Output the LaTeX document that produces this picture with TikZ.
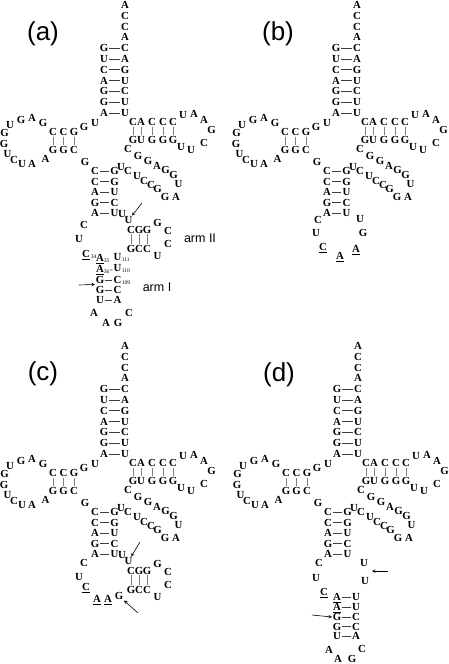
\documentclass[tikz,border=0pt]{standalone}
\usepackage{fontspec}
\setmainfont{Liberation Serif}
\setsansfont{Liberation Sans}
\begin{document}
\begin{tikzpicture}[
    x=1pt,
    y=-1pt,
    >=stealth,
    nt/.style={font=\bfseries\fontsize{10.8}{10.8}\selectfont,inner sep=0.6pt,
      text height=7.3pt,text depth=0pt},
    subs/.style={font=\fontsize{5.5}{5.5}\selectfont,inner sep=0pt,
      anchor=south west},
    pairbond/.style={draw=black!75,line width=0.6pt,shorten <=0.4pt,shorten >=0.4pt},
    rung/.style={draw=black!50,line width=0.7pt,shorten <=0.4pt,shorten >=0.4pt},
    pointer/.style={->,line width=0.6pt},
    panellabel/.style={font=\sffamily\fontsize{26}{26}\selectfont},
    armlabel/.style={font=\sffamily\fontsize{12.5}{12.5}\selectfont}
  ]
    \useasboundingbox (0,0) rectangle (448,664);

    % acceptor, D arm, T arm and anticodon stem, same in every panel
    \foreach \p/\dx/\dy in {a/0/0,b/232/0,c/0/341,d/233/341} {
      \begin{scope}[shift={(\dx,\dy)},name prefix=\p-]
        \foreach \n/\x/\y/\t in {
            t1/125/4.8/A, t2/125/15.6/C, t3/125/26.4/C, t4/125/37.2/A,
            l1/104/48/G, l2/104/58.8/U, l3/104/69.6/C, l4/104/80.4/A,
            l5/104/91.2/G, l6/104/102/G, l7/104/112.8/A,
            r1/125/48/C, r2/125/58.8/A, r3/125/69.6/G, r4/125/80.4/U,
            r5/125/91.2/C, r6/125/102/U, r7/125/112.8/U,
            j1/95/123/U, j2/84/126.5/G,
            d1/74/132/G, d2/63.5/132/C, d3/53/132/C,
            d4/53/150/G, d5/63.5/150/G, d6/74/150/C,
            e1/43/123/G, e2/32/117.5/A, e3/21/119.5/G, e4/10/124.5/U,
            e5/4.5/133/G, e6/4/143.5/G, e7/7.5/153.5/U, e8/14/159.5/C,
            e9/22/163.5/U, e10/32/163.5/A, e11/45.5/158.5/A,
            j3/85/161.5/G,
            s1/95/171/C, s2/95/181.5/C, s3/95/192/A, s4/95/202.5/G, s5/95/213/A,
            p1/114.5/171/G, p2/114.5/181.5/G, p3/114.5/192/U,
            p4/114.5/202.5/C, p5/114.5/213/U,
            v1/121/167/U, v2/128/171/C, v3/137/176/U, v4/144/181/C,
            v5/151/184.5/C, v6/157.5/188.5/G, v7/165/197/G, v8/176/197/A,
            v9/178.5/184/U, v10/173.5/174.5/G, v11/165.5/169.5/G, v12/157/165.5/A,
            v13/148/160.5/G, v14/138/155.5/G, v15/128/149/C,
            b1/133/140/G, b2/141/140/U, b3/152/140/G, b4/163/140/G, b5/173/140/G,
            c1/133/122/C, c2/141/122/A, c3/152/122/C, c4/163/122/C, c5/173/122/C,
            h1/181/147/U, h2/191/150/U, h3/204/143/C, h4/211.5/130/G,
            h5/204/120/A, h6/194/114/A, h7/183/115/U}
          \node[nt] (\n) at (\x,\y) {\t};
        \foreach \l/\r in {l1/r1,l2/r2,l3/r3,l4/r4,l5/r5,l6/r6,l7/r7,
            s1/p1,s2/p2,s3/p3,s4/p4,s5/p5}
          \draw[pairbond] (\l) -- (\r);
        \foreach \u/\w in {d3/d4,d2/d5,d1/d6,c1/b1,c2/b2,c3/b3,c4/b4,c5/b5}
          \draw[rung] (\u) -- (\w);
      \end{scope}
    }

    % arm II in panels (a) and (c)
    \foreach \p/\dy in {a/0,c/341} {
      \begin{scope}[shift={(0,\dy)},name prefix=\p-]
        \foreach \n/\x/\y/\t in {
            w1/122/214/U, w2/128.5/220/U,
            k1/131/229.5/C, k2/139/229.5/G, k3/147/229.5/G,
            k4/157.5/222.5/G, k5/168/231/C, k6/168/244/C, k7/157.5/256/U,
            f1/131/249/G, f2/139/249/C, f3/147/249/C}
          \node[nt] (\n) at (\x,\y) {\t};
        \foreach \u/\w in {k1/f1,k2/f2,k3/f3}
          \draw[rung] (\u) -- (\w);
      \end{scope}
    }

    % panel (a)
    \node[panellabel] (a-title) at (43,34) {(a)};
    \begin{scope}[name prefix=a-]
      \foreach \n/\x/\y/\t in {
          x1/84/225/C, x2/79/239/U, c34/86/254/\underline{C},
          a35/100/258/\underline{A}, a36/100/269/\underline{A},
          g1/100/280/G, g2/100/290/G, u1/100/300/U,
          o1/94/313/A, o2/106/323/A, o3/118/323/G, o4/129/313/C,
          u111/117.5/257/U, u110/117.5/268/U, c109/117.5/280/C,
          q2/117.5/290/C, q3/117.5/300/A}
        \node[nt] (\n) at (\x,\y) {\t};
      \node[subs] (s34) at (c34.south east) {34};
      \node[subs] (s35) at ([xshift=-1pt]a35.south east) {35};
      \node[subs] (s36) at ([xshift=-1pt]a36.south east) {36};
      \node[subs] (s111) at ([xshift=-0.5pt]u111.south east) {111};
      \node[subs] (s110) at ([xshift=-0.5pt]u110.south east) {110};
      \node[subs] (s109) at ([xshift=-0.5pt]c109.south east) {109};
      \draw[pairbond] (s36) -- (u110);
      \foreach \l/\r in {g1/c109,g2/q2,u1/q3}
        \draw[pairbond] (\l) -- (\r);
      \coordinate (arII) at (142,203);
      \draw[pointer] (arII) -- (w2);
      \coordinate (arI) at (79,285);
      \draw[pointer] (arI) -- (g1.south west);
      \node[armlabel] (armII) at (200,238) {arm II};
      \node[armlabel] (armI) at (157,287) {arm I};
    \end{scope}

    % panel (b)
    \node[panellabel] (b-title) at (278,34) {(b)};
    \begin{scope}[shift={(234,0)},name prefix=b-]
      \foreach \n/\x/\y/\t in {
          y1/84/220/C, y2/82/233/U, y3/89/247/\underline{C},
          y4/106/256/\underline{A}, y5/122/249/\underline{A},
          y6/129/233/G, y7/126/219/U}
        \node[nt] (\n) at (\x,\y) {\t};
    \end{scope}

    % panel (c)
    \node[panellabel] (c-title) at (43,374) {(c)};
    \begin{scope}[shift={(0,341)},name prefix=c-]
      \foreach \n/\x/\y/\t in {
          z1/84/222/C, z2/79/236/U, z3/86/246/\underline{C},
          z4/97/258/\underline{A}, z5/108/258/\underline{A}, z6/119/255/G}
        \node[nt] (\n) at (\x,\y) {\t};
      \coordinate (arU) at (140,201);
      \draw[pointer] (arU) -- (w2);
      \coordinate (arG) at (138,272);
      \draw[pointer] (arG) -- (z6);
    \end{scope}

    % panel (d)
    \node[panellabel] (d-title) at (279,375) {(d)};
    \begin{scope}[shift={(234,341)},name prefix=d-]
      \foreach \n/\x/\y/\t in {
          z1/85/222/C, z2/82/237/U, z3/90/251/\underline{C},
          m1/103/256/\underline{A}, m2/103/266/\underline{A},
          m3/103/276/G, m4/103/285.5/G, m5/103/295/U,
          n1/122/256/U, n2/122/266/U, n3/122/276/C, n4/122/285.5/C, n5/122/295/A,
          o1/95/309/A, o2/104/317.5/A, o3/118/317.5/G, o4/128/308/C,
          w1/131/240/U, w2/130/222/U}
        \node[nt] (\n) at (\x,\y) {\t};
      \foreach \l/\r in {m1/n1,m2/n2,m3/n3,m4/n4,m5/n5}
        \draw[pairbond] (\l) -- (\r);
      \coordinate (arU) at (154,230);
      \coordinate (gapU) at (138,230);
      \draw[pointer] (arU) -- (gapU);
      \coordinate (arI) at (78,274);
      \draw[pointer] (arI) -- (m3.west);
    \end{scope}
  \end{tikzpicture}
\end{document}
